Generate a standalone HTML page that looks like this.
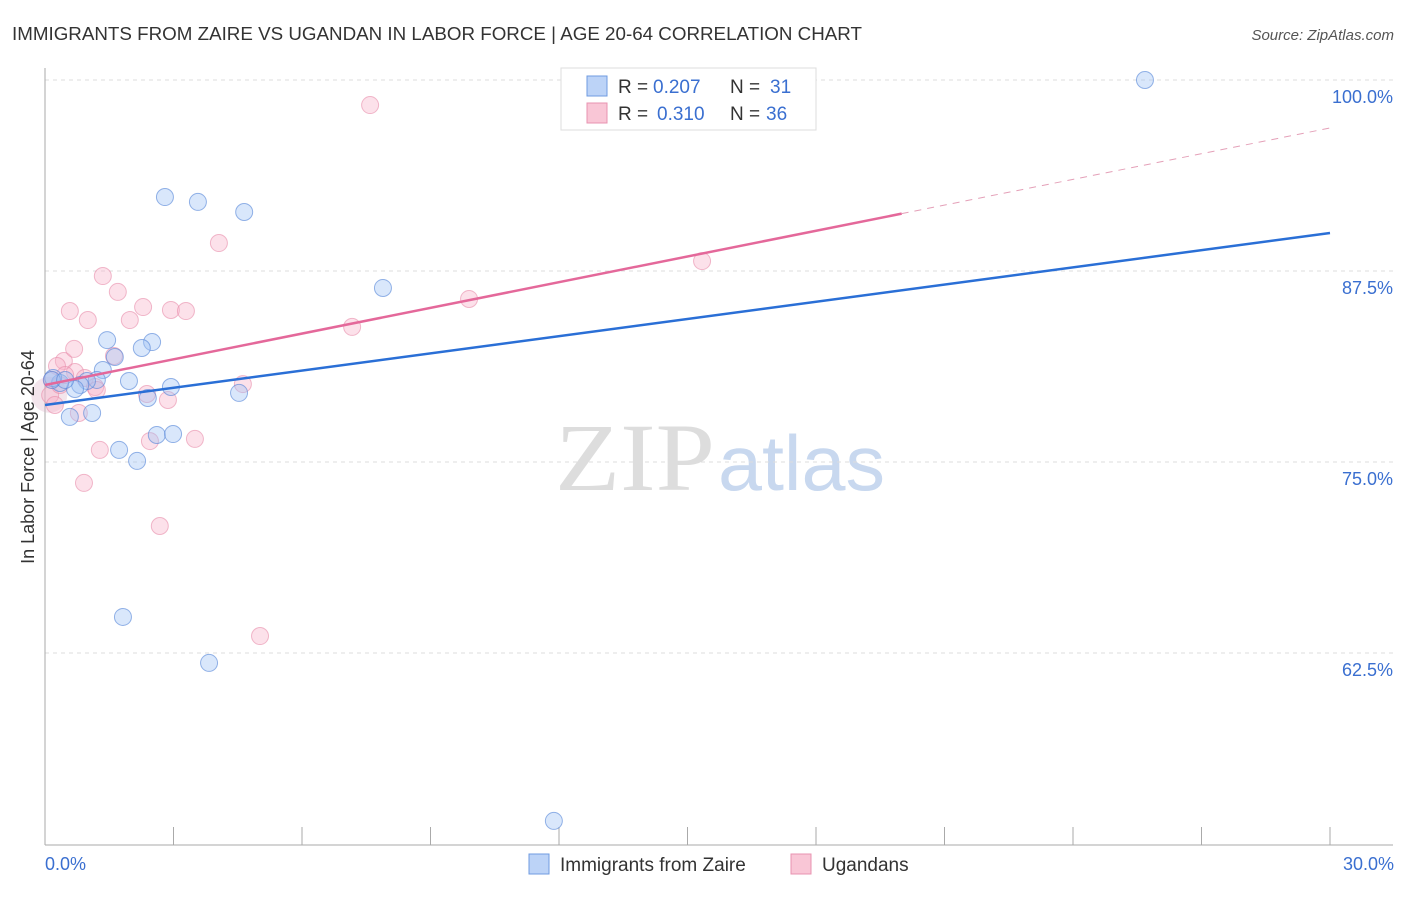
<!DOCTYPE html>
<html><head><meta charset="utf-8"><style>
body{margin:0;background:#fff;font-family:"Liberation Sans",sans-serif}
svg text{font-family:"Liberation Sans",sans-serif}
</style></head><body>
<svg width="1406" height="892">
<text x="12" y="40" font-size="18" fill="#333" textLength="850" lengthAdjust="spacingAndGlyphs">IMMIGRANTS FROM ZAIRE VS UGANDAN IN LABOR FORCE | AGE 20-64 CORRELATION CHART</text>
<text x="1394" y="40" font-size="15" font-style="italic" fill="#555" text-anchor="end">Source: ZipAtlas.com</text>
<text x="555" y="490" font-size="96" fill="#ddd" textLength="160" lengthAdjust="spacingAndGlyphs" style="font-family:'Liberation Serif',serif">ZIP</text>
<text x="718" y="490" font-size="78" fill="#c8d8ef" textLength="167" lengthAdjust="spacingAndGlyphs">atlas</text>
<g id="grid"></g><g id="axes"></g><g id="pts"></g><g id="lines"></g>
<text transform="translate(34,457) rotate(-90)" font-size="18" fill="#333" text-anchor="middle">In Labor Force | Age 20-64</text>
<text x="45" y="870" font-size="18" fill="#3a6fd0">0.0%</text>
<text x="1394" y="870" font-size="18" fill="#3a6fd0" text-anchor="end">30.0%</text>
<g>
<rect x="561" y="68" width="255" height="62" fill="#fff" stroke="#ddd"/>
<rect x="587" y="76" width="20" height="20" fill="#bcd3f7" stroke="#6f9be0"/>
<rect x="587" y="103" width="20" height="20" fill="#f9c6d6" stroke="#e893b0"/>
<text x="618" y="93" font-size="19" fill="#333">R =</text>
<text x="653" y="93" font-size="19" fill="#3a6fd0">0.207</text>
<text x="730" y="93" font-size="19" fill="#333">N =</text>
<text x="770" y="93" font-size="19" fill="#3a6fd0">31</text>
<text x="618" y="120" font-size="19" fill="#333">R =</text>
<text x="657" y="120" font-size="19" fill="#3a6fd0">0.310</text>
<text x="730" y="120" font-size="19" fill="#333">N =</text>
<text x="766" y="120" font-size="19" fill="#3a6fd0">36</text>
</g>
<g>
<rect x="529" y="854" width="20" height="20" fill="#bcd3f7" stroke="#6f9be0"/>
<text x="560" y="871" font-size="19" fill="#333">Immigrants from Zaire</text>
<rect x="791" y="854" width="20" height="20" fill="#f9c6d6" stroke="#e893b0"/>
<text x="822" y="871" font-size="19" fill="#333">Ugandans</text>
</g>
</svg>
<script>
const yTicks=[100,87.5,75,62.5];
const yTickLabels=["100.0%","87.5%","75.0%","62.5%"];
const xTicks=[0,3,6,9,12,15,18,21,24,27,30];
const zaireX=[25.68,2.80,3.57,4.65,7.89,1.45,2.50,2.26,1.63,1.35,1.96,1.21,0.98,0.82,0.70,0.35,0.19,2.94,2.40,4.53,0.58,1.10,2.61,2.99,1.73,2.15,1.82,3.83,11.88,0.16,0.47];
const zaireY=[100,92.34,92.02,91.36,86.39,82.98,82.85,82.46,81.87,81.02,80.30,80.37,80.30,80.04,79.78,80.17,80.50,79.91,79.19,79.52,77.95,78.21,76.77,76.83,75.79,75.07,64.86,61.85,51.51,80.37,80.37];
const ugX=[7.59,4.06,1.35,1.70,0.58,2.29,2.94,3.29,1.00,1.98,7.17,9.90,15.34,0.44,0.68,1.61,0.28,0.70,0.16,0.93,1.17,4.62,2.38,2.87,0.79,1.28,2.45,3.50,0.91,2.68,5.02,0.12,0.35,0.47,1.21,0.23];
const ugY=[98.36,89.33,87.17,86.13,84.88,85.14,84.95,84.88,84.29,84.29,83.84,85.67,88.15,81.61,82.40,81.94,81.28,80.89,80.37,80.50,79.91,80.10,79.45,79.06,78.21,75.79,76.37,76.51,73.63,70.81,63.61,79.38,80.04,80.69,79.71,78.73];
const zaireTrend=[78.73,89.99];
const ugTrend=[80.04,96.86];
const ugSolidEnd=20;
const NS="http://www.w3.org/2000/svg";
const sx=v=>45+v/30*1285, sy=v=>80+(100-v)*15.28;
function mk(t,a,p){const e=document.createElementNS(NS,t);for(const k in a)e.setAttribute(k,a[k]);p.appendChild(e);return e;}
const grid=document.getElementById('grid'),axes=document.getElementById('axes'),pts=document.getElementById('pts'),lines=document.getElementById('lines');
yTicks.forEach((v,i)=>{
 const l=mk('line',{x1:45,x2:1393,y1:sy(v),y2:sy(v),stroke:'#ddd','stroke-dasharray':'4,4'},grid);
 
 
 const t=mk('text',{x:1393,y:sy(v)+23,'font-size':18,fill:'#3a6fd0','text-anchor':'end'},grid);
 t.textContent=yTickLabels[i];
 
 
});
let a=mk('line',{x1:45,x2:45,y1:68,y2:845,stroke:'#aaa'},axes);


a=mk('line',{x1:45,x2:1393,y1:845,y2:845,stroke:'#aaa'},axes);


xTicks.forEach(v=>{const t=mk('line',{x1:sx(v),x2:sx(v),y1:827,y2:845,stroke:'#aaa'},axes);
 
 });
const big=mk('circle',{cx:sx(0.1),cy:sy(79.4),r:18,fill:'rgba(220,180,200,0.35)'},pts);


ugX.forEach((x,i)=>{const c=mk('circle',{cx:sx(x),cy:sy(ugY[i]),r:8.5,fill:'rgba(248,180,202,0.4)',stroke:'rgba(232,140,170,0.6)'},pts);
 
 });
zaireX.forEach((x,i)=>{const c=mk('circle',{cx:sx(x),cy:sy(zaireY[i]),r:8.5,fill:'rgba(160,195,245,0.4)',stroke:'rgba(80,130,215,0.6)'},pts);
 
 });
let l=mk('line',{x1:sx(0),y1:sy(zaireTrend[0]),x2:sx(30),y2:sy(zaireTrend[1]),stroke:'#2a6fd6','stroke-width':2.5},lines);


const ugAt=x=>ugTrend[0]+(ugTrend[1]-ugTrend[0])*x/30;
l=mk('line',{x1:sx(0),y1:sy(ugTrend[0]),x2:sx(ugSolidEnd),y2:sy(ugAt(ugSolidEnd)),stroke:'#e4689a','stroke-width':2.5},lines);


l=mk('line',{x1:sx(ugSolidEnd),y1:sy(ugAt(ugSolidEnd)),x2:sx(30),y2:sy(ugTrend[1]),stroke:'#e4a0b8','stroke-width':1,'stroke-dasharray':'7,6'},lines);


</script>
</body></html>
